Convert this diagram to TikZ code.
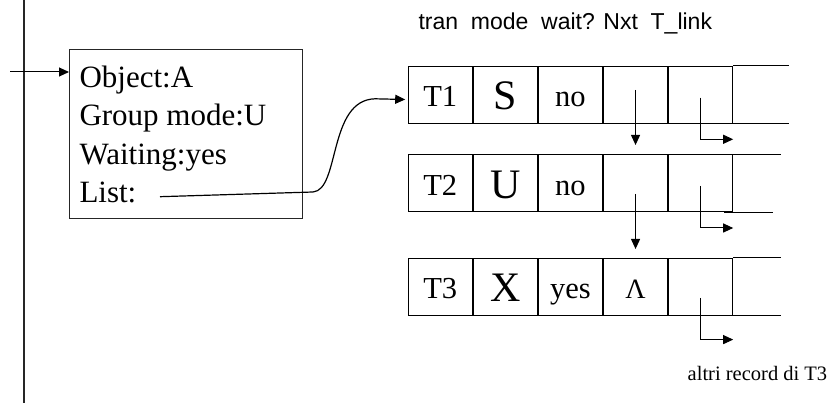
\documentclass[tikz,border=0pt]{standalone}
\usepackage{fontspec}
\setmainfont{Liberation Serif}
\newfontfamily\headfont{Liberation Sans}
\usetikzlibrary{arrows.meta}
\begin{document}
\begin{tikzpicture}[x=1pt,y=-1pt,
  line width=1pt,
  tip/.style={-{Triangle[length=10pt,width=9pt]}},
  rail/.style={line width=1.4pt, black!85},
  cell/.style={draw, anchor=north west, minimum width=64.1pt, minimum height=57pt,
    inner sep=0pt, font=\fontsize{30.5}{36}\selectfont, text height=24pt, text depth=0pt},
  bigcell/.style={cell, font=\fontsize{42}{48}\selectfont, text height=30pt},
  field/.style={anchor=base west, inner sep=0pt, font=\fontsize{31}{37}\selectfont},
  tail/.style={line width=1pt},
]
\useasboundingbox (0,0) rectangle (836,403);

% vertical rail on the left
\coordinate (railtop) at (24,0);
\coordinate (railbot) at (24,403);
\draw[rail] (railtop) -- (railbot);

% object descriptor
\node[draw, black!85, line width=1.2pt, anchor=north west, minimum width=232.5pt,
      minimum height=169pt, inner sep=0pt] (obj) at (69,49) {};
\node[field] (f1) at (79,87.3) {Object:A};
\node[field] (f2) at (79,126) {Group mode:U};
\node[field] (f3) at (79,164.6) {Waiting:yes};
\node[field] (f4) at (79,203) {List:};

\coordinate (entry) at (10,72);
\draw[tip] (entry) -- (obj.west |- entry);

% column headings
\node[anchor=base west, inner sep=0pt, font=\headfont\fontsize{23}{27}\selectfont]
  (hdr) at (418,29.7) {tran\ \ mode\ \ wait? Nxt\ \ T\_link};

% record T1
\node[cell]    (a1) at (407.7,66) {T1};
\node[bigcell] (b1) at (a1.north east) {S};
\node[cell]    (c1) at (b1.north east) {no};
\node[cell]    (d1) at (c1.north east) {};
\node[cell]    (e1) at (d1.north east) {};
\draw[tail] (e1.north east) -- ++(56,0);
\draw[tail] (e1.south east) -- ++(56,0);

% record T2
\node[cell]    (a2) at (407.7,154.5) {T2};
\node[bigcell] (b2) at (a2.north east) {U};
\node[cell]    (c2) at (b2.north east) {no};
\node[cell]    (d2) at (c2.north east) {};
\node[cell]    (e2) at (d2.north east) {};
\draw[tail] (e2.north east) -- ++(48,0);
\draw[tail] ([xshift=-9pt]e2.south east) -- ++(49,0);

% record T3
\node[cell]    (a3) at (407.7,258) {T3};
\node[bigcell] (b3) at (a3.north east) {X};
\node[cell]    (c3) at (b3.north east) {yes};
\node[cell, font=\fontsize{28}{32}\selectfont] (d3) at (c3.north east) {Λ};
\node[cell]    (e3) at (d3.north east) {};
\draw[tail] (e3.north east) -- ++(48,0);
\draw[tail] (e3.south east) -- ++(48,0);

% Nxt pointers
\draw[tip, shorten >=9.5pt] ([yshift=-24pt]d1.north) -- (d2.north);
\draw[tip, shorten >=9pt] ([yshift=-39.5pt]d2.north) -- (d3.north);

% T_link pointers
\draw[tip] ([yshift=-31.7pt]e1.north) |- ([yshift=-15.3pt]e1.south east);
\draw[tip] ([yshift=-31.5pt]e2.north) |- ([yshift=-15.5pt]e2.south east);
\draw[tip] ([yshift=-40pt]e3.north) |- ([yshift=-23.6pt]e3.south east);

% list head pointer
\coordinate (lstart) at (160,196.7);
\draw[tip, line width=1.2pt] (lstart) -- (313,192)
  .. controls (340,190) and (328,100) .. (375,98.8)
  -- ([xshift=-2.5pt,yshift=-4.5pt]a1.west);

\node[anchor=base east, inner sep=0pt, font=\fontsize{20.5}{24}\selectfont]
  (more) at (827.7,381) {altri record di T3};
\end{tikzpicture}
\end{document}
